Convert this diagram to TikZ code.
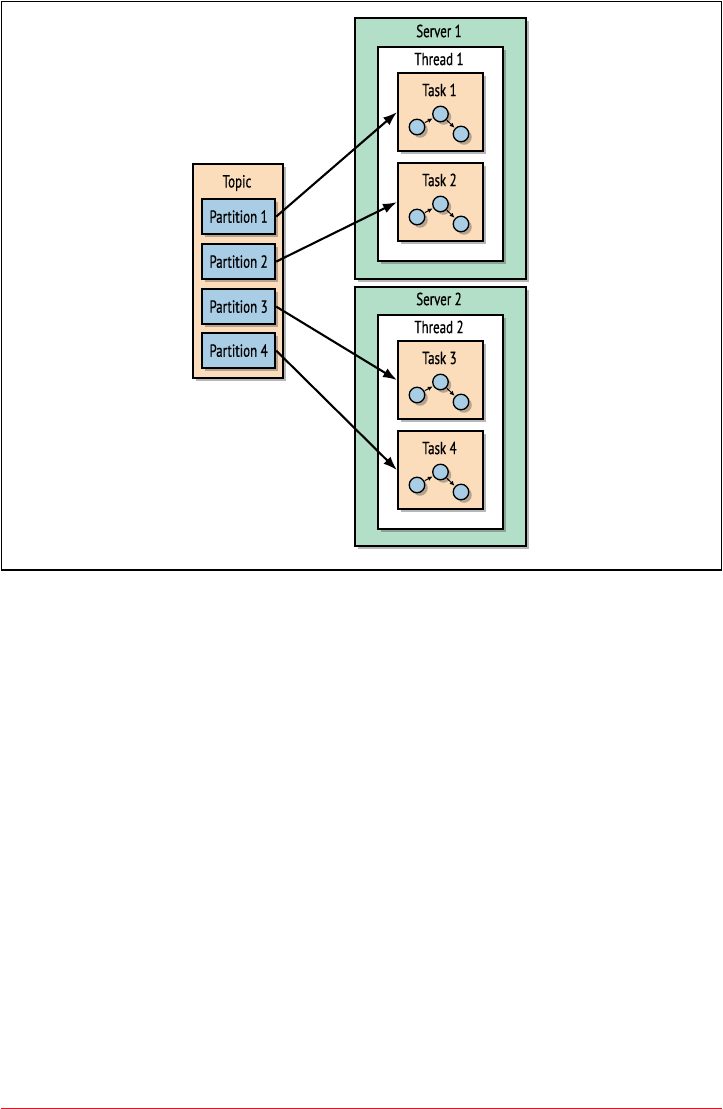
\documentclass[tikz,border=0pt]{standalone}
\usepackage{fontspec}
\setmainfont{PT Sans}[FakeStretch=0.74,FakeBold=0.6]
\usetikzlibrary{shadows,arrows.meta,calc}
\definecolor{srvgreen}{HTML}{B3DEC8}
\definecolor{peach}{HTML}{FBDDBC}
\definecolor{pblue}{HTML}{A9CDE5}
\definecolor{redline}{HTML}{D7182A}
\tikzset{
  shad/.style={drop shadow={shadow xshift=3pt,shadow yshift=-3pt,opacity=0.4,fill=black!70}},
  box/.style={draw=black,line width=2.2pt,anchor=north west,inner sep=0pt,shad},
  server/.style={box,fill=srvgreen},
  thread/.style={box,fill=white},
  taskbox/.style={box,fill=peach},
  topicbox/.style={box,fill=peach},
  part/.style={draw=black,line width=2.2pt,fill=pblue,minimum width=73pt,minimum height=35pt,anchor=north west,inner sep=0pt,shad,font=\fontsize{17.5}{20}\selectfont},
  lbl/.style={font=\fontsize{17.5}{20}\selectfont,inner sep=0pt},
  dot/.style={circle,draw=black,line width=1.3pt,fill=pblue,minimum size=15.5pt,inner sep=0pt,shad},
  flow/.style={line width=2.1pt,-{Latex[length=14pt,width=10pt]}},
  mini/.style={line width=1pt,-{Latex[length=5pt,width=4.5pt]},shorten >=0.5pt,shorten <=0.5pt}
}
\begin{document}
\begin{tikzpicture}[x=1pt,y=-1pt]
\useasboundingbox (0,0) rectangle (723,1109);
\draw[line width=1.6pt] (1.5,1.5) rectangle (721.5,570);
\draw[redline,line width=1.3pt] (1,1108.3) -- (722,1108.3);
% servers
\node[server,minimum width=171pt,minimum height=261pt] (s1) at (354,17) {};
\node[lbl] (s1l) at (439,31) {Server 1};
\node[thread,minimum width=125pt,minimum height=214pt] (th1) at (377,46) {};
\node[lbl] (th1l) at (439,59) {Thread 1};
\node[server,minimum width=171pt,minimum height=259pt] (s2) at (354,286) {};
\node[lbl] (s2l) at (439,299) {Server 2};
\node[thread,minimum width=125pt,minimum height=214pt] (th2) at (377,314) {};
\node[lbl] (th2l) at (439,327) {Thread 2};
% tasks
\foreach \n/\y in {1/72,2/162,3/340,4/430}{
  \node[taskbox,minimum width=85pt,minimum height=78pt] (t\n) at (397,\y) {};
  \node[lbl] (t\n l) at ($(t\n.north west)+(42.5,18)$) {Task \n};
  \node[dot] (t\n a) at ($(t\n.north west)+(20,55)$) {};
  \node[dot] (t\n b) at ($(t\n.north west)+(43.5,42)$) {};
  \node[dot] (t\n c) at ($(t\n.north west)+(64,62)$) {};
  \draw[mini] (t\n a) -- (t\n b);
  \draw[mini] (t\n b) -- (t\n c);
}
% topic
\node[topicbox,minimum width=90pt,minimum height=214pt] (topic) at (192,163) {};
\node[lbl] (topicl) at (237,183) {Topic};
\node[part] (p1) at (201,198) {Partition 1};
\node[part] (p2) at (201,243) {Partition 2};
\node[part] (p3) at (201,288) {Partition 3};
\node[part] (p4) at (201,332) {Partition 4};
% flows
\draw[flow] (p1.east) -- (t1.west);
\draw[flow] (p2.east) -- (t2.west);
\draw[flow] (p3.east) -- (t3.west);
\draw[flow] (p4.east) -- (t4.west);
\end{tikzpicture}
\end{document}
